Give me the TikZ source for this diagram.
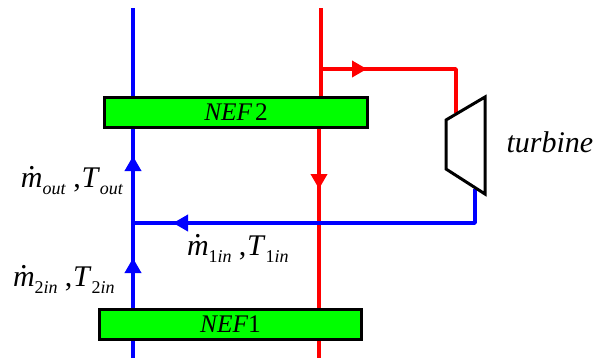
\documentclass[tikz,border=0pt]{standalone}
\usepackage{fontspec}
\setmainfont{Liberation Serif}
\usetikzlibrary{arrows.meta}
\tikzset{every picture/.style={line width=2.25pt}}
\tikzset{
  blueline/.style={color={rgb, 255:red, 0; green, 0; blue, 255 },line width=2.7pt},
  redline/.style={color={rgb, 255:red, 255; green, 0; blue, 0 },line width=2.7pt},
  flowtip/.style={-{Triangle[length=11.25pt,width=12pt]}},
  nefbox/.style={draw,fill={rgb, 255:red, 0; green, 255; blue, 0 },line width=2.25pt,minimum width=197pt,minimum height=22.5pt,inner sep=0pt,font=\fontsize{19}{19}\selectfont},
  flowlabel/.style={inner sep=0pt,anchor=base west,font=\fontsize{22.5}{22.5}\selectfont}
}
\newcommand{\subtxt}[1]{\raisebox{-5.5pt}{\fontsize{13.5}{13.5}\selectfont #1}}
\newcommand{\mdot}{\setbox0\hbox{\textit{m}}\rlap{\hbox to \wd0{\hss\raisebox{.6em}{.}\hss}}\box0}
\newcommand{\sep}{\hspace{5.5pt},\hspace{0.5pt}}
\begin{document}
\begin{tikzpicture}[x=0.75pt,y=0.75pt,yscale=-1,xscale=1]
\useasboundingbox (0,0) rectangle (594,358);

% Boxes
\node [nefbox] (nefB) at (236,112) {\textit{NEF}\hspace{2pt}2\hspace{5pt}};
\node [nefbox] (nefA) at (230.5,324.5) {\textit{NEF}1\hspace{2pt}};

% Coordinates
\coordinate (blueTop) at (133,8);
\coordinate (blueBot) at (133,358);
\coordinate (blueJoin) at (133,223);
\coordinate (blueTipA) at (133,156);
\coordinate (blueTipB) at (133,258);
\coordinate (blueTipC) at (173,223);
\coordinate (redTop) at (321,8);
\coordinate (redBot) at (319,358);
\coordinate (redJoin) at (321,69);
\coordinate (redTipA) at (367,69);
\coordinate (redTipB) at (319,189);
\coordinate (redCorner) at (456,69);
\coordinate (turbIn) at (456,113);
\coordinate (turbOut) at (475,189);
\coordinate (blueCorner) at (475,223);
\coordinate (turbA) at (446,120);
\coordinate (turbB) at (485,97);
\coordinate (turbC) at (485,194);
\coordinate (turbD) at (446,169);

% Red stream
\draw [redline] (redTop) -- (redTop |- nefB.north);
\draw [redline] (redBot |- nefB.south) -- (redBot |- nefA.north);
\draw [redline] (redBot |- nefA.south) -- (redBot);
\draw [redline,flowtip] (redBot |- nefB.south) -- (redTipB);
\draw [redline,line join=round] (redJoin) -- (redCorner) -- (turbIn);
\draw [redline,flowtip] (redJoin) -- (redTipA);

% Blue stream
\draw [blueline] (blueTop) -- (blueTop |- nefB.north);
\draw [blueline] (blueBot) -- (blueBot |- nefA.south);
\draw [blueline] (blueTop |- nefA.north) -- (blueTop |- nefB.south);
\draw [blueline,flowtip] (blueTop |- nefA.north) -- (blueTipB);
\draw [blueline,flowtip] (blueJoin) -- (blueTipA);
\draw [blueline,line join=round] (turbOut) -- (blueCorner) -- (blueJoin);
\draw [blueline,flowtip] (blueCorner) -- (blueTipC);

% Turbine
\draw [fill=white,line join=miter] (turbA) -- (turbB) -- (turbC) -- (turbD) -- cycle;

% Text Node
\node [flowlabel] (turbineLabel) at (505,152) {\textit{turbine}};
% Text Node
\node [flowlabel] (outLabel) at (19.5,187) {\mdot\subtxt{\textit{out}}\sep\textit{T}\subtxt{\textit{out}}};
% Text Node
\node [flowlabel] (inOneLabel) at (185.5,255) {\mdot\subtxt{1\textit{in}}\sep\textit{T}\subtxt{1\textit{in}}};
% Text Node
\node [flowlabel] (inTwoLabel) at (11.5,286) {\mdot\subtxt{2\textit{in}}\sep\textit{T}\subtxt{2\textit{in}}};

\end{tikzpicture}
\end{document}
